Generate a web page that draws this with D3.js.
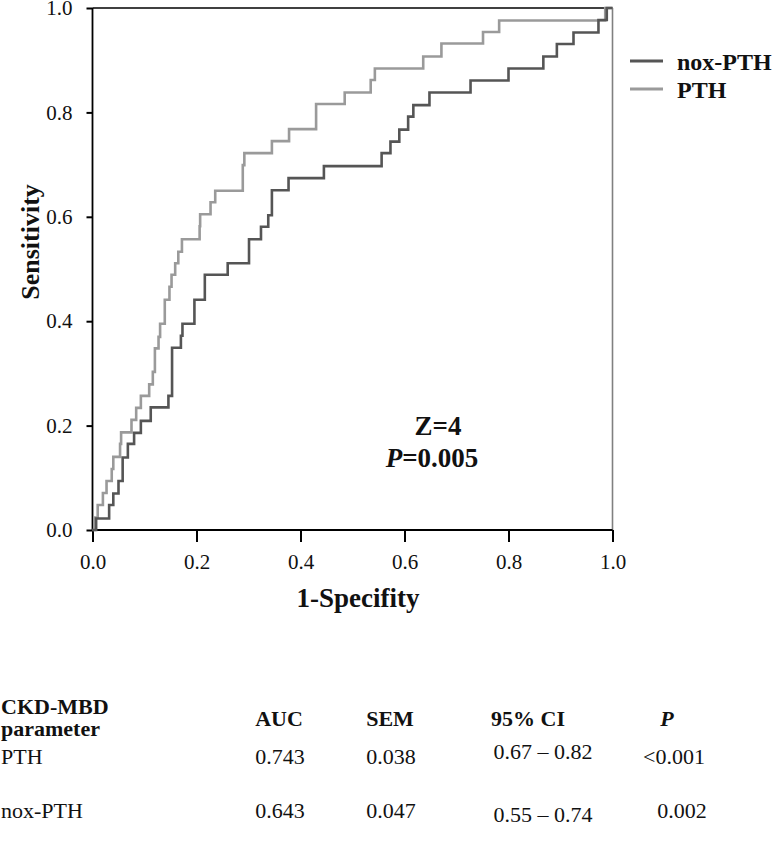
<!DOCTYPE html>
<html>
<head>
<meta charset="utf-8">
<script src="https://cdn.jsdelivr.net/npm/d3@7"></script>
<style>
  html, body { margin: 0; padding: 0; background: #fff; }
  svg { display: block; font-family: "Liberation Serif", "Times New Roman", serif; }
</style>
</head>
<body>
<svg id="chart" width="776" height="851"></svg>
<script>
// ---- Data ----
const seriesNames = ["nox-PTH", "PTH"];
const noxFPR = [0, 0.007, 0.032, 0.040, 0.050, 0.058, 0.068, 0.080, 0.093, 0.112, 0.146, 0.153, 0.170, 0.173, 0.196, 0.216, 0.260, 0.301, 0.324, 0.338, 0.345, 0.377, 0.445, 0.556, 0.573, 0.590, 0.607, 0.617, 0.648, 0.727, 0.800, 0.867, 0.893, 0.925, 0.973, 0.989, 1.0];
const noxTPR = [0, 0.022, 0.048, 0.070, 0.094, 0.139, 0.165, 0.186, 0.209, 0.235, 0.257, 0.349, 0.372, 0.395, 0.441, 0.489, 0.511, 0.557, 0.581, 0.603, 0.651, 0.674, 0.697, 0.722, 0.744, 0.767, 0.792, 0.814, 0.838, 0.861, 0.884, 0.907, 0.931, 0.953, 0.977, 1.0, 1.0];
const pthFPR = [0, 0.004, 0.010, 0.020, 0.027, 0.037, 0.040, 0.053, 0.055, 0.075, 0.084, 0.093, 0.109, 0.116, 0.120, 0.127, 0.130, 0.139, 0.148, 0.152, 0.159, 0.165, 0.172, 0.206, 0.207, 0.227, 0.236, 0.289, 0.292, 0.345, 0.378, 0.430, 0.485, 0.535, 0.543, 0.636, 0.671, 0.751, 0.782, 0.986, 1.0];
const pthTPR = [0, 0.024, 0.048, 0.071, 0.094, 0.117, 0.140, 0.165, 0.187, 0.211, 0.234, 0.257, 0.279, 0.303, 0.348, 0.370, 0.395, 0.441, 0.466, 0.489, 0.511, 0.533, 0.557, 0.582, 0.605, 0.628, 0.650, 0.699, 0.722, 0.745, 0.768, 0.816, 0.838, 0.862, 0.884, 0.907, 0.932, 0.954, 0.976, 1.0, 1.0];
const tickValues = [0, 0.2, 0.4, 0.6, 0.8, 1.0];
const xTitle = "1-Specifity";
const yTitle = "Sensitivity";
const annotZ = "Z=4";
const annotP = "0.005";
const tableHeader = ["AUC", "SEM", "95% CI", "P"];
const tableRows = ["PTH", "nox-PTH"];
const tableAUC = ["0.743", "0.643"];
const tableSEM = ["0.038", "0.047"];
const tableCI = ["0.67 – 0.82", "0.55 – 0.74"];
const tableP = ["<0.001", "0.002"];

// ---- Layout ----
const svg = d3.select("#chart");
const x = d3.scaleLinear().domain([0, 1]).range([92.5, 612.5]);
const y = d3.scaleLinear().domain([0, 1]).range([530, 8]);
const colors = { "nox-PTH": "#555555", "PTH": "#9a9a9a" };

// frame
svg.append("line").attr("x1", x(0)).attr("x2", x(1)).attr("y1", y(1)).attr("y2", y(1))
  .attr("stroke", "#000").attr("stroke-width", 1.6);
svg.append("line").attr("x1", x(1)).attr("x2", x(1)).attr("y1", y(1)).attr("y2", y(0))
  .attr("stroke", "#808080").attr("stroke-width", 1.6);

// axes
const fmt = d3.format(".1f");
const xAxis = svg.append("g").attr("transform", `translate(0,${y(0)})`)
  .call(d3.axisBottom(x).tickValues(tickValues).tickFormat(fmt).tickSize(12).tickPadding(12));
const yAxis = svg.append("g").attr("transform", `translate(${x(0)},0)`)
  .call(d3.axisLeft(y).tickValues(tickValues).tickFormat(fmt).tickSize(6).tickPadding(14));
[xAxis, yAxis].forEach(g => {
  g.select(".domain").remove();
  g.selectAll(".tick line").attr("stroke", "#000").attr("stroke-width", 2);
  g.selectAll(".tick text").attr("font-family", "Liberation Serif").attr("font-size", 21).attr("fill", "#111");
});
svg.append("line").attr("x1", x(0)).attr("x2", x(1)).attr("y1", y(0)).attr("y2", y(0))
  .attr("stroke", "#000").attr("stroke-width", 1.8);
svg.append("line").attr("x1", x(0)).attr("x2", x(0)).attr("y1", y(0)).attr("y2", y(1))
  .attr("stroke", "#000").attr("stroke-width", 1.8);

// curves
const line = d3.line().x(d => x(d[0])).y(d => y(d[1])).curve(d3.curveStepAfter);
const pthPts = pthFPR.map((v, i) => [v, pthTPR[i]]);
const noxPts = noxFPR.map((v, i) => [v, noxTPR[i]]);
svg.append("path").attr("d", line(pthPts)).attr("fill", "none")
  .attr("stroke", colors["PTH"]).attr("stroke-width", 2.6);
svg.append("path").attr("d", line(noxPts)).attr("fill", "none")
  .attr("stroke", colors["nox-PTH"]).attr("stroke-width", 2.6);

// axis titles
svg.append("text").attr("x", 358).attr("y", 607).attr("text-anchor", "middle")
  .attr("font-weight", "bold").attr("font-size", 27).attr("fill", "#111").text(xTitle);
svg.append("text").attr("transform", "translate(39,242) rotate(-90)").attr("text-anchor", "middle")
  .attr("font-weight", "bold").attr("font-size", 26).attr("fill", "#111").text(yTitle);

// annotation
svg.append("text").attr("x", 438).attr("y", 435).attr("text-anchor", "middle")
  .attr("font-weight", "bold").attr("font-size", 27).attr("fill", "#111").text(annotZ);
const pt = svg.append("text").attr("x", 432).attr("y", 467).attr("text-anchor", "middle")
  .attr("font-weight", "bold").attr("font-size", 27).attr("fill", "#111");
pt.append("tspan").attr("font-style", "italic").text("P");
pt.append("tspan").text("=" + annotP);

// legend
seriesNames.forEach((name, i) => {
  const ly = 61 + i * 28;
  svg.append("line").attr("x1", 630).attr("x2", 663).attr("y1", ly).attr("y2", ly)
    .attr("stroke", colors[name]).attr("stroke-width", 3);
  svg.append("text").attr("x", 677).attr("y", ly + 9).attr("font-weight", "bold")
    .attr("font-size", 24).attr("fill", "#111").text(name);
});

// table
const T = svg.append("g").attr("font-size", 22).attr("fill", "#111");
T.append("text").attr("x", 1).attr("y", 714).attr("font-weight", "bold").text("CKD-MBD");
T.append("text").attr("x", 1).attr("y", 736).attr("font-weight", "bold").text("parameter");
const colX = [279, 390, 528, 667];
tableHeader.forEach((h, i) => {
  T.append("text").attr("x", colX[i]).attr("y", 726).attr("text-anchor", "middle")
    .attr("font-weight", "bold").attr("font-style", h === "P" ? "italic" : "normal").text(h);
});
const rowY = [764, 818];
const ciY = [759, 822];
const valX = [280, 391, 543, 674];
tableRows.forEach((r, i) => {
  T.append("text").attr("x", 1).attr("y", rowY[i]).text(r);
  T.append("text").attr("x", valX[0]).attr("y", rowY[i]).attr("text-anchor", "middle").text(tableAUC[i]);
  T.append("text").attr("x", valX[1]).attr("y", rowY[i]).attr("text-anchor", "middle").text(tableSEM[i]);
  T.append("text").attr("x", valX[2]).attr("y", ciY[i]).attr("text-anchor", "middle").text(tableCI[i]);
  T.append("text").attr("x", i === 0 ? 674 : 682).attr("y", rowY[i]).attr("text-anchor", "middle").text(tableP[i]);
});
</script>
</body>
</html>
